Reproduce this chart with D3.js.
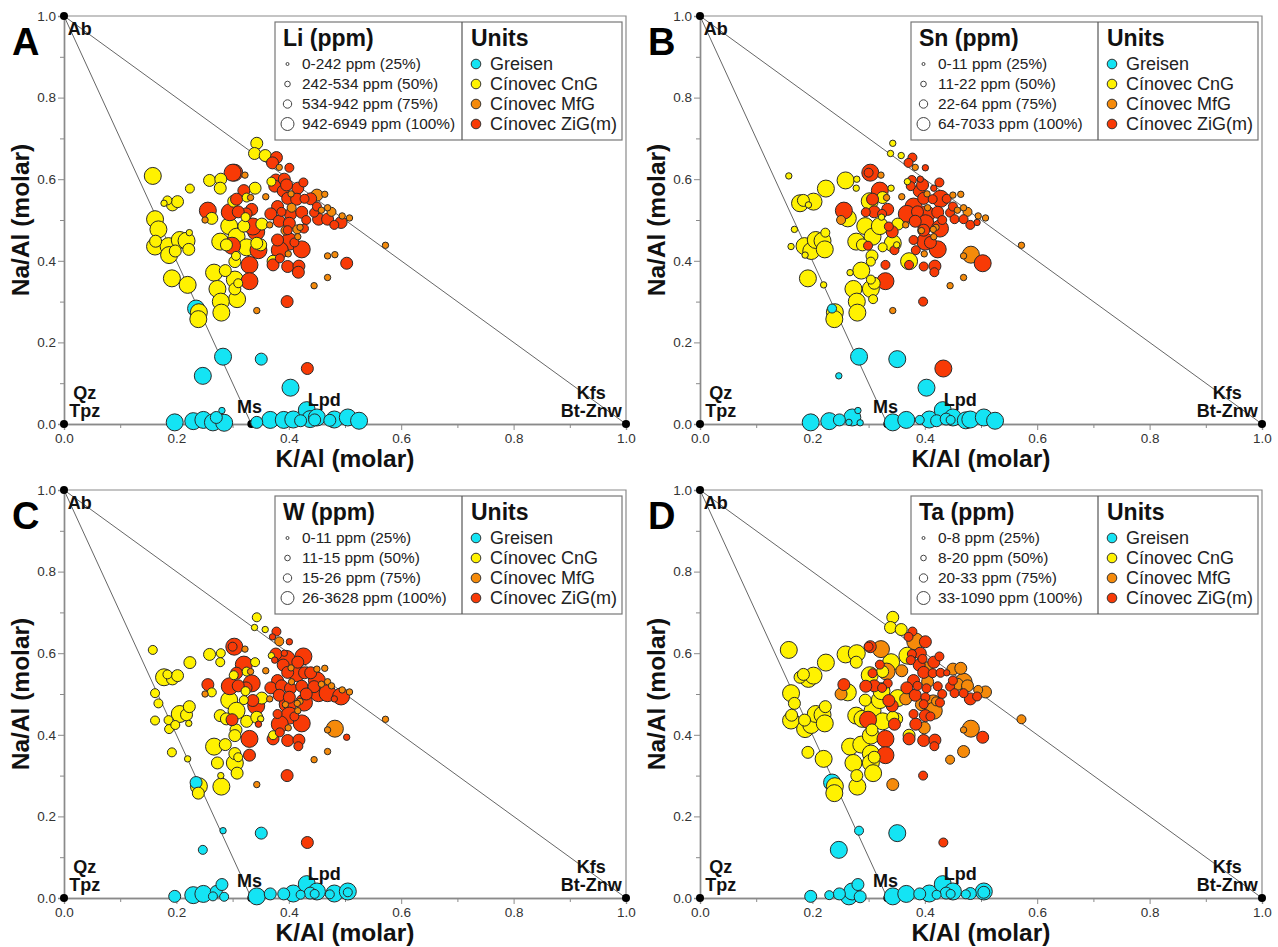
<!DOCTYPE html>
<html>
<head>
<meta charset="utf-8">
<script src="https://cdn.jsdelivr.net/npm/d3@7"></script>
<style>
  html, body { margin: 0; background: #fff; }
  text { font-family: "Liberation Sans", Arial, sans-serif; }
</style>
</head>
<body>
<div id="chart"></div>
<script>
// each row: K/Al, Na/Al, then size class (quartile 1-4, 0 = not plotted) for Li, Sn, W, Ta
const greisen = [
  [.197,.004,4,4,3,3],[.230,.007,4,4,4,2],[.248,.010,4,3,4,3],[.265,.004,4,1,2,4],
  [.271,.016,3,4,3,4],[.285,.003,4,1,2,3],[.281,.033,1,1,3,3],[.283,.165,4,4,1,2],
  [.247,.118,4,1,2,4],[.351,.159,3,4,3,4],[.403,.089,4,4,0,0],[.235,.283,4,2,3,4],
  [.343,.004,3,4,4,4],[.367,.010,4,4,3,4],[.391,.010,4,2,3,3],[.408,.011,4,4,4,4],
  [.421,.008,3,3,2,2],[.432,.034,4,4,4,4],[.438,.012,4,3,3,3],[.446,.010,3,2,2,2],
  [.450,.016,4,4,4,4],[.473,.009,3,4,2,2],[.481,.011,4,4,4,3],[.505,.016,4,4,4,4],
  [.505,.014,0,0,2,3],[.525,.008,4,4,0,0]
];
const cnG = [
  [.343,.688,3,1,2,3],[.339,.663,3,1,1,3],[.358,.658,3,1,1,3],[.158,.608,4,1,2,4],
  [.224,.577,2,4,3,4],[.259,.597,3,4,3,4],[.279,.600,3,1,2,4],[.278,.578,3,1,2,3],
  [.340,.578,3,1,2,4],[.369,.594,2,1,1,4],[.178,.541,1,4,4,3],[.184,.548,2,3,2,3],
  [.193,.537,3,1,3,4],[.202,.545,3,4,3,4],[.162,.502,4,0,2,4],[.168,.477,4,1,2,3],
  [.163,.448,3,0,0,3],[.162,.435,4,1,2,4],[.186,.436,4,4,2,3],[.187,.414,4,1,2,4],
  [.198,.424,3,4,2,4],[.206,.451,4,4,4,4],[.218,.449,4,4,3,4],[.223,.469,1,2,3,3],
  [.222,.428,3,4,1,4],[.192,.357,4,4,2,3],[.220,.341,4,1,1,4],[.267,.371,4,1,4,4],
  [.287,.376,3,4,3,4],[.304,.354,4,2,3,4],[.310,.345,2,3,2,3],[.273,.331,4,4,3,4],
  [.304,.331,3,4,4,4],[.308,.306,4,2,3,4],[.279,.300,4,4,1,3],[.280,.273,4,4,4,4],
  [.240,.274,4,4,4,4],[.239,.257,4,4,3,4],[.278,.447,4,4,3,4],[.289,.439,3,3,3,4],
  [.294,.485,4,4,4,3],[.307,.459,4,4,4,4],[.320,.485,3,4,2,4],[.325,.433,4,2,3,4],
  [.352,.490,3,3,3,4],[.350,.439,3,1,1,3],[.343,.443,3,4,3,3],[.306,.412,2,3,3,3],
  [.304,.398,3,2,3,4],[.263,.504,3,4,2,4],[.302,.546,3,4,2,4],[.323,.507,2,1,2,4],
  [.325,.555,2,3,2,3],[.372,.399,3,4,2,3]
];
const mfG = [
  [.383,.629,1,1,2,4],[.322,.610,1,1,1,4],[.404,.564,1,1,1,3],[.359,.557,1,1,1,3],
  [.332,.555,1,1,1,4],[.450,.561,3,1,1,3],[.464,.563,1,1,1,3],[.405,.530,2,1,1,3],
  [.458,.524,1,1,1,3],[.469,.530,1,1,1,4],[.476,.520,2,2,1,3],[.495,.510,1,1,1,2],
  [.508,.505,1,1,1,3],[.366,.488,1,1,1,3],[.420,.482,1,1,1,2],[.394,.474,2,1,1,3],
  [.415,.477,2,1,1,4],[.416,.459,1,1,1,4],[.399,.417,1,1,1,3],[.251,.500,1,2,1,3],
  [.469,.412,1,1,1,1],[.482,.415,1,4,4,4],[.469,.359,1,1,1,3],[.445,.339,1,1,1,2],
  [.343,.278,1,1,1,3],[.572,.438,1,1,1,2]
];
const ziG = [
  [.378,.653,3,2,2,2],[.371,.640,3,2,1,2],[.401,.628,2,1,1,3],[.303,.616,4,4,4,3],
  [.300,.616,4,2,2,2],[.377,.598,3,2,3,2],[.392,.600,3,1,1,3],[.426,.592,2,2,4,2],
  [.375,.583,3,2,1,2],[.390,.571,3,3,3,3],[.416,.578,3,1,3,3],[.396,.586,3,3,4,2],
  [.320,.572,3,4,4,2],[.307,.551,3,3,3,2],[.398,.553,3,3,3,3],[.414,.551,3,2,4,2],
  [.428,.552,2,4,3,2],[.439,.552,3,2,3,1],[.380,.533,3,4,3,3],[.368,.515,3,4,3,3],
  [.387,.520,2,3,3,2],[.403,.514,3,4,3,2],[.423,.519,3,3,3,2],[.445,.518,2,2,3,2],
  [.450,.533,2,2,4,2],[.383,.497,3,3,3,3],[.401,.492,3,4,3,2],[.431,.500,2,2,3,2],
  [.453,.502,3,2,4,2],[.469,.502,3,2,4,2],[.481,.488,2,2,1,3],[.493,.494,3,1,4,2],
  [.398,.475,2,3,4,2],[.427,.479,2,4,4,2],[.334,.526,3,3,4,2],[.324,.515,3,2,3,2],
  [.310,.520,3,3,3,3],[.295,.519,4,2,4,3],[.256,.523,4,4,3,3],[.342,.471,4,3,4,3],
  [.336,.484,4,2,3,3],[.380,.451,3,2,2,2],[.401,.447,4,4,4,3],[.410,.445,2,3,2,2],
  [.384,.426,4,2,4,3],[.423,.428,4,4,4,0],[.346,.426,4,2,1,3],[.299,.437,4,2,3,4],
  [.384,.406,2,0,2,0],[.372,.390,3,2,3,3],[.330,.390,4,2,4,4],[.398,.386,3,2,3,3],
  [.418,.387,3,3,3,3],[.417,.372,3,2,2,2],[.330,.350,4,4,3,4],[.503,.394,3,4,1,3],
  [.397,.300,3,2,3,2],[.433,.136,3,4,3,2]
];

const unitNames = ["Greisen", "Cínovec CnG", "Cínovec MfG", "Cínovec ZiG(m)"];
const unitRows = [greisen, cnG, mfG, ziG];
const unitColors = ["#14e4f4", "#fff200", "#f58a0a", "#f83a06"];

const panelLetters = ["A", "B", "C", "D"];
const elements = ["Li", "Sn", "W", "Ta"];
const liRanges = ["0-242 ppm (25%)", "242-534 ppm (50%)", "534-942 ppm (75%)", "942-6949 ppm (100%)"];
const snRanges = ["0-11 ppm (25%)", "11-22 ppm (50%)", "22-64 ppm (75%)", "64-7033 ppm (100%)"];
const wRanges = ["0-11 ppm (25%)", "11-15 ppm (50%)", "15-26 ppm (75%)", "26-3628 ppm (100%)"];
const taRanges = ["0-8 ppm (25%)", "8-20 ppm (50%)", "20-33 ppm (75%)", "33-1090 ppm (100%)"];
const rangeLabels = [liRanges, snRanges, wRanges, taRanges];

const vertices = [[0, 1], [0, 0], [1, 0], [1 / 3, 0]];
const majorTicks = [0, .2, .4, .6, .8, 1];
const minorTicks = [.1, .3, .5, .7, .9];
// label, K/Al, Na/Al
const vertexLabels = [
  ["Ab", .028, .968], ["Qz", .037, .076], ["Tpz", .037, .032], ["Ms", .33, .042],
  ["Lpd", .463, .06], ["Kfs", .938, .076], ["Bt-Znw", .938, .032]
];

const panelW = 562, panelH = 408;
const panelX = [64, 700, 64, 700];
const panelY = [16, 16, 490, 490];

const x = d3.scaleLinear().domain([0, 1]).range([0, panelW]);
const y = d3.scaleLinear().domain([0, 1]).range([panelH, 0]);
const radius = d3.scaleOrdinal().domain([1, 2, 3, 4]).range([3.2, 4.5, 6, 8.5]);
const legendRadius = d3.scaleOrdinal().domain([1, 2, 3, 4]).range([1.5, 2.8, 4.2, 6.5]);

const svg = d3.select("#chart").append("svg").attr("width", 1278).attr("height", 947);

function drawAxes(g) {
  const fmt = d3.format(".1f");
  const axisColor = "#8a8a8a";
  const style = sel => {
    sel.select(".domain").attr("stroke", axisColor).attr("stroke-width", 1.4);
    sel.selectAll("line").attr("stroke", axisColor);
    sel.selectAll("text").attr("font-size", 13.5).attr("fill", "#333");
  };
  g.append("g").attr("transform", `translate(0,${panelH})`)
    .call(d3.axisBottom(x).tickValues(majorTicks).tickFormat(fmt).tickSize(6).tickPadding(3)).call(style);
  g.append("g").attr("transform", `translate(0,${panelH})`)
    .call(d3.axisBottom(x).tickValues(minorTicks).tickFormat("").tickSize(4)).call(style);
  g.append("g")
    .call(d3.axisLeft(y).tickValues(majorTicks).tickFormat(fmt).tickSize(6).tickPadding(2)).call(style);
  g.append("g")
    .call(d3.axisLeft(y).tickValues(minorTicks).tickFormat("").tickSize(4)).call(style);
  // top and right of the frame
  g.append("path")
    .attr("d", `M${x(0)},${y(1)}H${x(1)}V${y(0)}`)
    .attr("fill", "none").attr("stroke", axisColor).attr("stroke-width", 1.2);

  g.append("text").attr("x", x(.5)).attr("y", panelH + 43)
    .attr("text-anchor", "middle").attr("font-size", 24.5).attr("font-weight", "bold")
    .attr("fill", "#111").text("K/Al (molar)");
  g.append("text").attr("transform", `translate(-35,${y(.5)}) rotate(-90)`)
    .attr("text-anchor", "middle").attr("font-size", 24.5).attr("font-weight", "bold")
    .attr("fill", "#111").text("Na/Al (molar)");
}

function drawPoints(g, idx) {
  const rows = [];
  unitRows.forEach((list, u) => list.forEach(r => {
    if (r[idx + 2] > 0) rows.push({ k: r[0], na: r[1], size: r[idx + 2], unit: u });
  }));
  // big bubbles go first so the small ones stay visible
  rows.sort((a, b) => d3.descending(a.size, b.size) || d3.ascending(a.unit, b.unit));

  g.selectAll("circle.pt").data(rows).join("circle")
    .attr("class", "pt")
    .attr("cx", d => x(d.k))
    .attr("cy", d => y(d.na))
    .attr("r", d => radius(d.size))
    .attr("fill", d => unitColors[d.unit])
    .attr("stroke", "#2a2a2a")
    .attr("stroke-width", 1);
}

function drawLegend(g, idx) {
  const lx = panelW - 351, ly = 6, w = 347, h = 118, split = 187;
  const box = g.append("g").attr("transform", `translate(${lx},${ly})`);
  box.append("rect").attr("width", w).attr("height", h)
    .attr("fill", "#fff").attr("stroke", "#777").attr("stroke-width", 1.2);
  box.append("line").attr("x1", split).attr("x2", split).attr("y2", h)
    .attr("stroke", "#555").attr("stroke-width", 1.2);

  box.append("text").attr("x", 8).attr("y", 24)
    .attr("font-size", 23).attr("font-weight", "bold").attr("fill", "#111")
    .text(`${elements[idx]} (ppm)`);
  box.append("text").attr("x", split + 9).attr("y", 24)
    .attr("font-size", 23).attr("font-weight", "bold").attr("fill", "#111")
    .text("Units");

  const rowY = d3.scalePoint().domain([0, 1, 2, 3]).range([42, 102]);
  rangeLabels[idx].forEach((label, i) => {
    box.append("circle").attr("cx", 12.5).attr("cy", rowY(i)).attr("r", legendRadius(i + 1))
      .attr("fill", "#fff").attr("stroke", "#444").attr("stroke-width", 1);
    box.append("text").attr("x", 27).attr("y", rowY(i) + 5)
      .attr("font-size", 15.4).attr("fill", "#222").text(label);
  });
  unitNames.forEach((label, i) => {
    box.append("circle").attr("cx", split + 14).attr("cy", rowY(i)).attr("r", 4.8)
      .attr("fill", unitColors[i]).attr("stroke", "#333").attr("stroke-width", 1);
    box.append("text").attr("x", split + 28).attr("y", rowY(i) + 6)
      .attr("font-size", 18).attr("fill", "#222").text(label);
  });
}

panelLetters.forEach((letter, idx) => {
  const g = svg.append("g").attr("transform", `translate(${panelX[idx]},${panelY[idx]})`);
  drawAxes(g);

  g.append("path")
    .attr("d", `M${x(0)},${y(1)}L${x(1)},${y(0)}M${x(0)},${y(1)}L${x(1 / 3)},${y(0)}`)
    .attr("fill", "none").attr("stroke", "#666").attr("stroke-width", 1);

  g.selectAll("circle.vertex").data(vertices).join("circle")
    .attr("class", "vertex")
    .attr("cx", d => x(d[0])).attr("cy", d => y(d[1])).attr("r", 4)
    .attr("fill", "#000");

  drawPoints(g, idx);

  g.selectAll("text.vlabel").data(vertexLabels).join("text")
    .attr("class", "vlabel")
    .attr("x", d => x(d[1])).attr("y", d => y(d[2]) + 6)
    .attr("text-anchor", "middle").attr("font-size", 18).attr("font-weight", "bold")
    .attr("fill", "#111").text(d => d[0]);

  drawLegend(g, idx);

  g.append("text").attr("x", -52).attr("y", 39)
    .attr("font-size", 38).attr("font-weight", "bold").attr("fill", "#000").text(letter);
});
</script>
</body>
</html>
